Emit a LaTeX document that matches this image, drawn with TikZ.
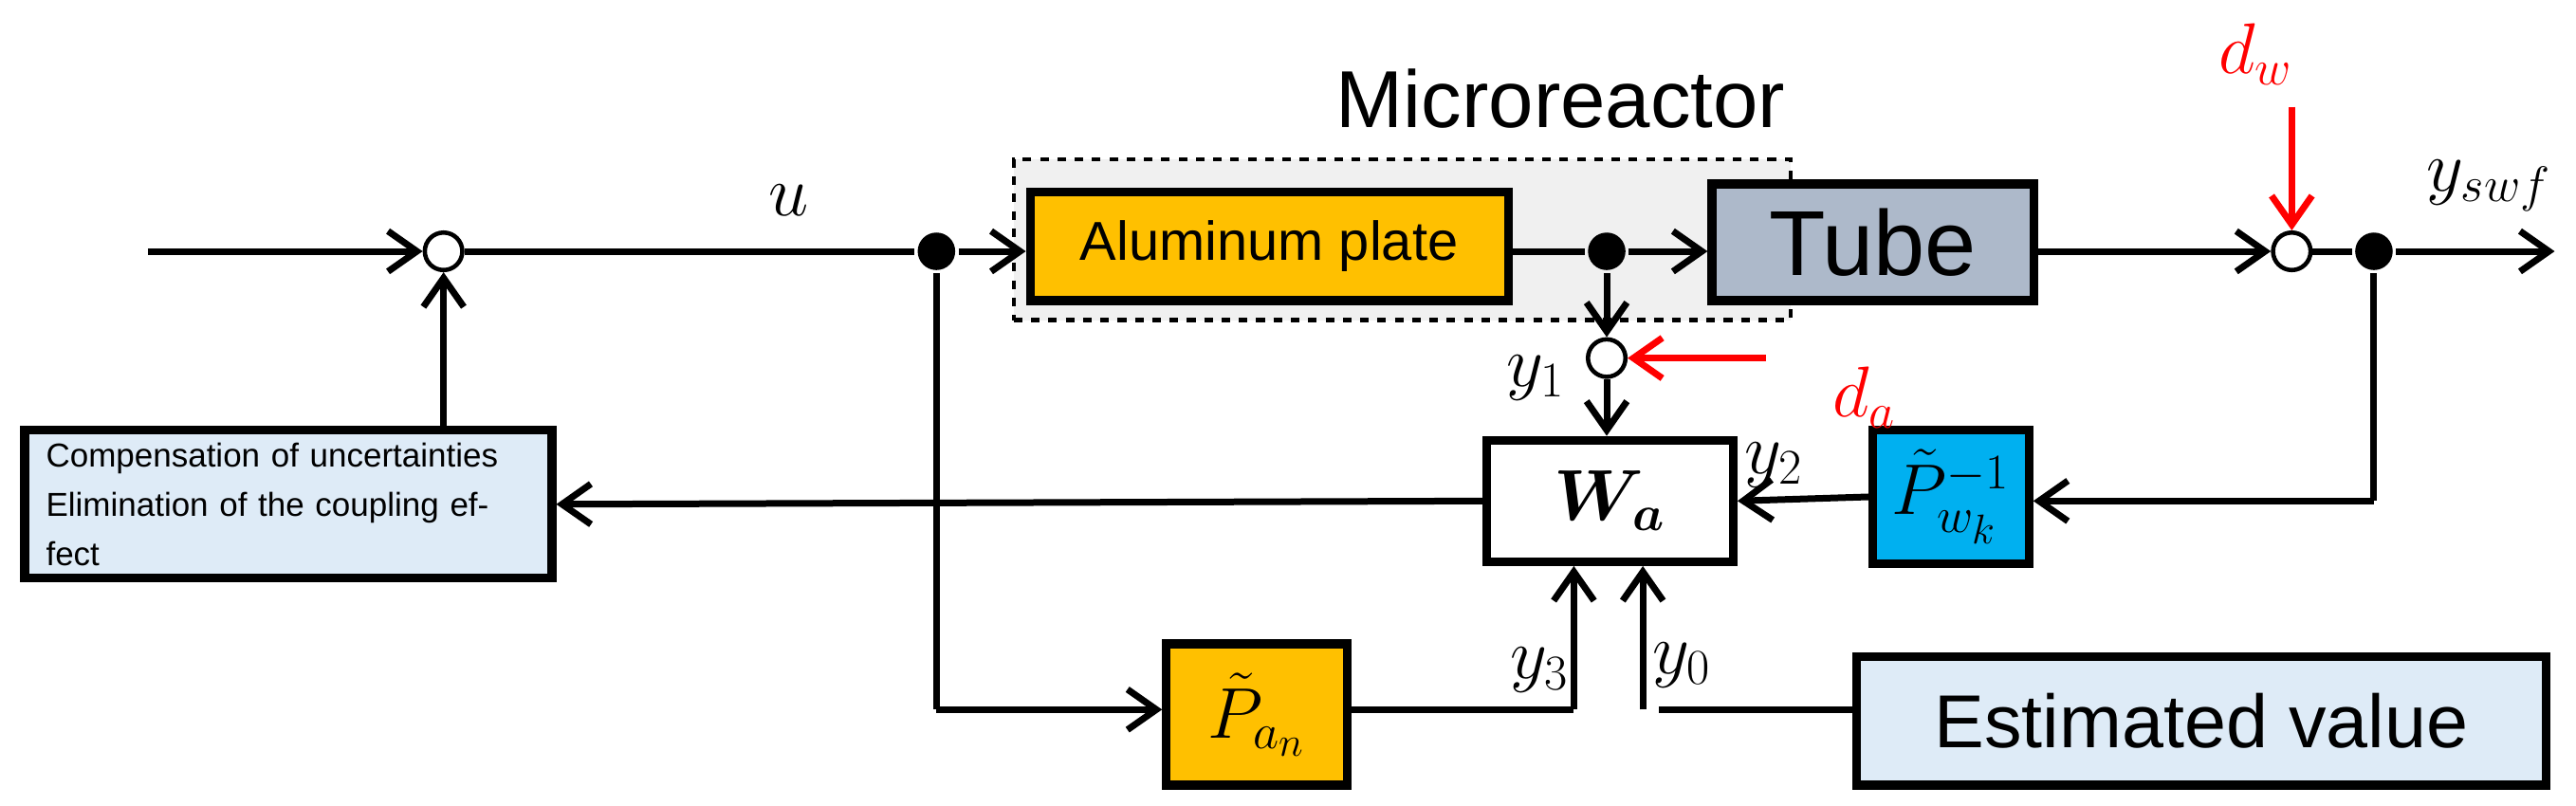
\documentclass[tikz,border=0pt]{standalone}
\usepackage{amsmath,bm}
\usepackage{fontspec}
\setmainfont{Liberation Sans}
\usetikzlibrary{arrows.meta}
\definecolor{org}{HTML}{FFC000}
\definecolor{tubeg}{HTML}{ADB9CA}
\definecolor{cyanb}{HTML}{00B0F0}
\definecolor{lblue}{HTML}{DEEBF7}
\begin{document}
\begin{tikzpicture}[x=0.02cm,y=-0.02cm,
  line width=2.3pt,
  >={Straight Barb[length=10pt,width=14pt,line width=2.3pt]},
  blk/.style={draw,line width=3pt,inner sep=0pt},
  sum/.style={circle,draw,fill=white,line width=1.5pt,minimum size=13pt,inner sep=0pt},
  dot/.style={circle,fill,minimum size=13pt,inner sep=0pt},
  lab/.style={font=\fontsize{27}{29}\selectfont},
  red/.style={draw=red,text=red,color=red}]
\useasboundingbox (0,0) rectangle (1568,490.7);
% dashed microreactor
\node[draw,dashed,line width=1.5pt,fill=gray!12,inner sep=0pt,minimum width=9.46cm,minimum height=1.96cm] (mr) at (853.5,146) {};
\node[font=\fontsize{28}{30}\selectfont] (mrl) at (950,60) {Microreactor};
% blocks
\node[blk,fill=org,minimum width=5.82cm,minimum height=1.32cm,font=\fontsize{19}{21}\selectfont] (al) at (772.5,150) {Aluminum plate};
\node[blk,fill=tubeg,minimum width=3.92cm,minimum height=1.42cm,font=\fontsize{32}{34}\selectfont] (tube) at (1140,147.5) {Tube};
\node[blk,fill=white,minimum width=3cm,minimum height=1.48cm,lab] (wa) at (980,305) {$\bm{W_a}$};
\node[blk,fill=cyanb,minimum width=1.9cm,minimum height=1.62cm,lab] (pw) at (1187.5,302.5) {$\tilde{P}_{w_k}^{-1}$};
\node[blk,fill=lblue,minimum width=6.42cm,minimum height=1.8cm,align=left,text width=5.9cm,font=\fontsize{11.5}{17}\selectfont] (comp) at (175.5,307) {Compensation of uncertainties\\Elimination of the coupling effect};
\node[blk,fill=org,minimum width=2.2cm,minimum height=1.72cm,lab] (pa) at (765,435) {$\tilde{P}_{a_n}$};
\node[blk,fill=lblue,minimum width=8.4cm,minimum height=1.56cm,font=\fontsize{26}{28}\selectfont] (est) at (1340,439) {Estimated value};
% summing/junction points
\coordinate (in) at (90,153);
\node[sum] (s1) at (270,153) {};
\node[dot] (j1) at (570,153) {};
\node[dot] (j2) at (978,153) {};
\node[sum] (s2) at (978,218) {};
\node[sum] (s3) at (1395,153) {};
\node[dot] (j3) at (1445,153) {};
\coordinate (out) at (1555,153);
\coordinate (dws) at (1395,65);
\coordinate (das) at (1075,218);
\coordinate (c1) at (1445,305);
\coordinate (c2) at (570,432);
\coordinate (c3) at (958,432);
\coordinate (c4) at (1000,432);
% connectors
\draw[->] (in) -- (s1.west);
\draw (s1.east) -- (j1);
\draw[->] (j1) -- (al.west|-j1);
\draw (al.east|-j2) -- (j2);
\draw[->] (j2) -- (tube.west|-j2);
\draw[->] (tube.east|-s3) -- (s3.west);
\draw (s3.east) -- (j3);
\draw[->] (j3) -- (out);
\draw[->,red] (dws) -- (s3.north);
\draw[->] (j2) -- (s2.north);
\draw[->,red] (das) -- (s2.east);
\draw[->] (s2.south) -- (wa.north-|s2);
\draw (j3) -- (c1);
\draw[->] (c1) -- (pw.east|-c1);
\draw[->] (pw.west) -- (wa.east);
\draw[->] (wa.west) -- (comp.east);
\draw[->] (comp.north-|s1) -- (s1.south);
\draw (j1) -- (c2);
\draw[->] (c2) -- (pa.west|-c2);
\draw (pa.east|-c3) -- (c3);
\draw[->] (c3) -- (wa.south-|c3);
\draw (est.west|-c4) -- (1010,432);
\draw[->] (c4) -- (wa.south-|c4);
% labels
\node[lab] (lu) at (480,122) {$u$};
\node[lab] (ly1) at (935,230) {$y_1$};
\node[lab] (ly2) at (1080,283) {$y_2$};
\node[lab] (ly3) at (937,408) {$y_3$};
\node[lab] (ly0) at (1024,405) {$y_0$};
\node[lab] (lys) at (1515,113) {$y_{swf}$};
\node[lab,text=red] (ldw) at (1373,33) {$d_w$};
\node[lab,text=red] (lda) at (1135,242) {$d_a$};
\end{tikzpicture}
\end{document}
